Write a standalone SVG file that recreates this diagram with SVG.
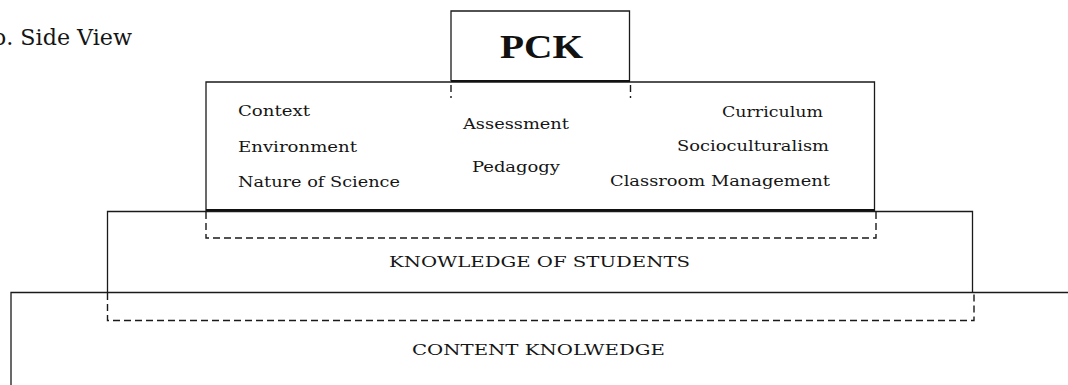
<svg xmlns="http://www.w3.org/2000/svg" width="1068" height="385" viewBox="0 0 1068 385">
<style>
.box{fill:none;stroke:#1a1a1a;stroke-width:1.3}
.thick{fill:none;stroke:#111;stroke-width:2.2}
.dash{fill:none;stroke:#1a1a1a;stroke-width:1.4;stroke-dasharray:7 4}
.t{font-family:"DejaVu Serif","Liberation Serif",serif;font-size:15px;fill:#151515}
.cap{font-family:"DejaVu Serif","Liberation Serif",serif;font-size:14.5px;fill:#151515}
.pck{font-family:"Liberation Serif","DejaVu Serif",serif;font-size:34px;font-weight:bold;fill:#111}
.title{font-family:"DejaVu Serif","Liberation Serif",serif;font-size:22px;fill:#151515}
</style>
<rect width="1068" height="385" fill="#fff"/>
<text class="title" x="-8" y="45" textLength="140" lengthAdjust="spacingAndGlyphs">b. Side View</text>

<g id="content-knowledge">
<path class="box" d="M11,385 V292.5 H1068"/>
<text class="cap" x="412" y="355" textLength="253" lengthAdjust="spacingAndGlyphs">CONTENT KNOLWEDGE</text>
</g>

<g id="knowledge-of-students">
<path class="box" d="M107.5,292.5 V211.5 H972.5 V292.5"/>
<text class="cap" x="389" y="267" textLength="301" lengthAdjust="spacingAndGlyphs">KNOWLEDGE OF STUDENTS</text>
</g>

<g id="pck-factors">
<path class="box" d="M206,211 V82 H874.5 V211"/>
<line class="thick" x1="206" y1="210" x2="875" y2="210"/>
<text class="t" x="238" y="116" textLength="72" lengthAdjust="spacingAndGlyphs">Context</text>
<text class="t" x="238" y="152" textLength="119" lengthAdjust="spacingAndGlyphs">Environment</text>
<text class="t" x="238" y="187" textLength="162" lengthAdjust="spacingAndGlyphs">Nature of Science</text>
<text class="t" x="463" y="129" textLength="106" lengthAdjust="spacingAndGlyphs">Assessment</text>
<text class="t" x="472" y="172" textLength="88" lengthAdjust="spacingAndGlyphs">Pedagogy</text>
<text class="t" x="722" y="117" textLength="101" lengthAdjust="spacingAndGlyphs">Curriculum</text>
<text class="t" x="677" y="151" textLength="152" lengthAdjust="spacingAndGlyphs">Socioculturalism</text>
<text class="t" x="610" y="186" textLength="220" lengthAdjust="spacingAndGlyphs">Classroom Management</text>
</g>

<g id="pck">
<path class="box" d="M451,81 V11 H629.5 V81"/>
<line class="thick" x1="451" y1="81" x2="630" y2="81"/>
<text class="pck" x="500" y="58" textLength="83" lengthAdjust="spacingAndGlyphs">PCK</text>
</g>

<g id="connectors">
<line class="dash" x1="451" y1="85" x2="451" y2="98"/>
<line class="dash" x1="630.5" y1="85" x2="630.5" y2="98"/>
<path class="dash" d="M206,212 V238 H876 V212"/>
<path class="dash" d="M107.5,293 V320.5 H974 V293"/>
</g>
</svg>
